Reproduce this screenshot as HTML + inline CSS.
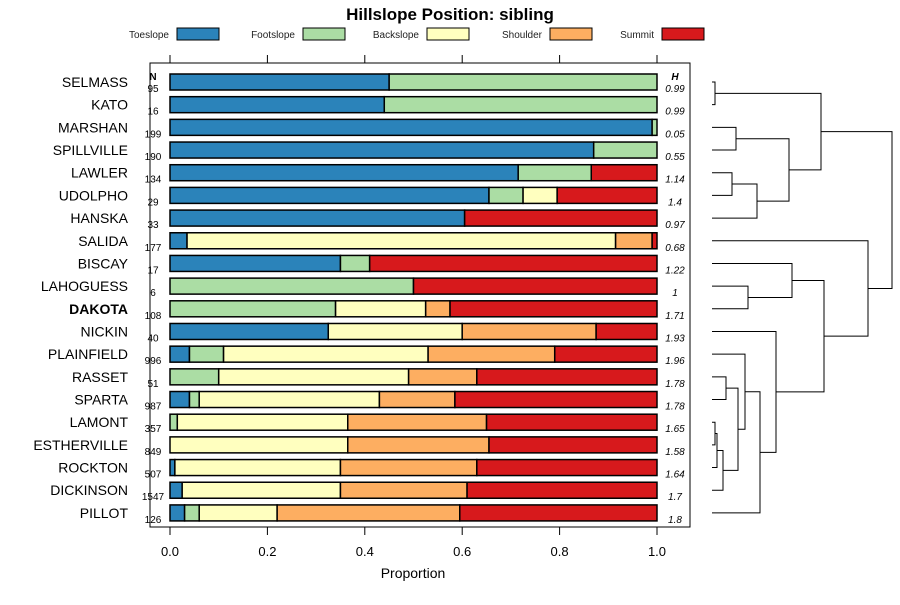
<!DOCTYPE html>
<html><head><meta charset="utf-8"><style>
body{margin:0;background:#fff}
svg{font-family:"Liberation Sans",sans-serif}
</style></head><body>
<svg id="c" width="900" height="600" xmlns="http://www.w3.org/2000/svg">
<text x="450" y="20" text-anchor="middle" font-size="17" font-weight="bold">Hillslope Position: sibling</text>
<g id="legend"></g>
<g id="plot"></g>
<g id="dendro" stroke="#000" stroke-width="1" fill="none"></g>
<text x="413" y="578" text-anchor="middle" font-size="14">Proportion</text>
</svg>
<script>
const categories = ["SELMASS","KATO","MARSHAN","SPILLVILLE","LAWLER","UDOLPHO","HANSKA","SALIDA","BISCAY","LAHOGUESS","DAKOTA","NICKIN","PLAINFIELD","RASSET","SPARTA","LAMONT","ESTHERVILLE","ROCKTON","DICKINSON","PILLOT"];
const seriesNames = ["Toeslope","Footslope","Backslope","Shoulder","Summit"];
const toeslope  = [0.45,0.44,0.99,0.87,0.715,0.655,0.605,0.035,0.35,0,0,0.325,0.04,0,0.04,0,0,0.01,0.025,0.03];
const footslope = [0.55,0.56,0.01,0.13,0.15,0.07,0,0,0.06,0.5,0.34,0,0.07,0.1,0.02,0.015,0,0,0,0.03];
const backslope = [0,0,0,0,0,0.07,0,0.88,0,0,0.185,0.275,0.42,0.39,0.37,0.35,0.365,0.34,0.325,0.16];
const shoulder  = [0,0,0,0,0,0,0,0.075,0,0,0.05,0.275,0.26,0.14,0.155,0.285,0.29,0.28,0.26,0.375];
const summit    = [0,0,0,0,0.135,0.205,0.395,0.01,0.59,0.5,0.425,0.125,0.21,0.37,0.415,0.35,0.345,0.37,0.39,0.405];
const nValues = [95,16,199,190,134,29,33,177,17,6,108,40,996,51,987,357,849,507,1547,126];
const hValues = ["0.99","0.99","0.05","0.55","1.14","1.4","0.97","0.68","1.22","1","1.71","1.93","1.96","1.78","1.78","1.65","1.58","1.64","1.7","1.8"];
const xTicks = [0,0.2,0.4,0.6,0.8,1.0];
const xTickLabels = ["0.0","0.2","0.4","0.6","0.8","1.0"];
const colors = ["#2b83ba","#abdda4","#ffffbf","#fdae61","#d7191c"];
// dendrogram merges: [childA, childB, height] ; leaves are 0..19, internal nodes 20+
const merges = [[15,16,715],[0,1,715],[20,17,717],[22,18,723],[13,14,726],[4,5,732],[2,3,736],[24,23,738],[25,6,757],[27,12,745],[9,10,748],[29,19,760],[11,31,776],[26,28,789],[8,30,792],[21,33,821],[34,32,824],[7,36,868],[35,37,892]];

const NS="http://www.w3.org/2000/svg";
function mk(tag,attrs,parent){const e=document.createElementNS(NS,tag);for(const k in attrs)e.setAttribute(k,attrs[k]);parent.appendChild(e);return e;}
const x = v => 170 + v*487;
const y = i => 82 + i*22.68;
const plot=document.getElementById('plot');
const frame=mk('rect',{x:150,y:63,width:540,height:464,fill:'none',stroke:'#000'},plot);


xTicks.forEach((t,k)=>{
  const a=mk('line',{x1:x(t),x2:x(t),y1:55,y2:63,stroke:'#000'},plot);
  
  
  const b=mk('line',{x1:x(t),x2:x(t),y1:527,y2:535,stroke:'#000'},plot);
  
  
  const l=mk('text',{x:x(t),y:556,'text-anchor':'middle','font-size':13},plot);
  l.textContent=xTickLabels[k];
  
  
});
const hN=mk('text',{x:153,y:80,'text-anchor':'middle','font-size':10,'font-weight':'bold'},plot);hN.textContent='N';


const hH=mk('text',{x:675,y:80,'text-anchor':'middle','font-size':10,'font-weight':'bold','font-style':'italic'},plot);hH.textContent='H';


const series=[toeslope,footslope,backslope,shoulder,summit];
categories.forEach((c,i)=>{
  const cy=y(i);
  const lab=mk('text',{x:128,y:cy+5,'text-anchor':'end','font-size':14,'font-weight':c==='DAKOTA'?'bold':'normal'},plot);
  lab.textContent=c;
  
  
  const n=mk('text',{x:153,y:cy+10,'text-anchor':'middle','font-size':10},plot);
  n.textContent=nValues[i];
  
  
  const h=mk('text',{x:675,y:cy+10,'text-anchor':'middle','font-size':10,'font-style':'italic'},plot);
  h.textContent=hValues[i];
  
  
  let cum=0;
  series.forEach((s,k)=>{
    const v=s[i]; if(v<=0)return;
    const r=mk('rect',{x:x(cum),y:cy-8,width:x(cum+v)-x(cum),height:16,fill:colors[k],stroke:'#000','stroke-width':1.5},plot);
    
    
    cum+=v;
  });
});
const lg=document.getElementById('legend');
const legX=[177,303,427,550,662];
seriesNames.forEach((s,k)=>{
  const t=mk('text',{x:legX[k]-8,y:38,'text-anchor':'end','font-size':10,fill:'#222'},lg);
  t.textContent=s;
  
  
  const r=mk('rect',{x:legX[k],y:28,width:42,height:12,fill:colors[k],stroke:'#000'},lg);
  
  
});
const dg=document.getElementById('dendro');
const nodes=categories.map((c,i)=>({x:712,y:y(i)}));
merges.forEach(m=>{
  const a=nodes[m[0]],b=nodes[m[1]],hx=m[2];
  const p=mk('path',{d:`M${a.x},${a.y}H${hx}V${b.y}H${b.x}`},dg);
  
  
  nodes.push({x:hx,y:(a.y+b.y)/2});
});
</script>
</body></html>
